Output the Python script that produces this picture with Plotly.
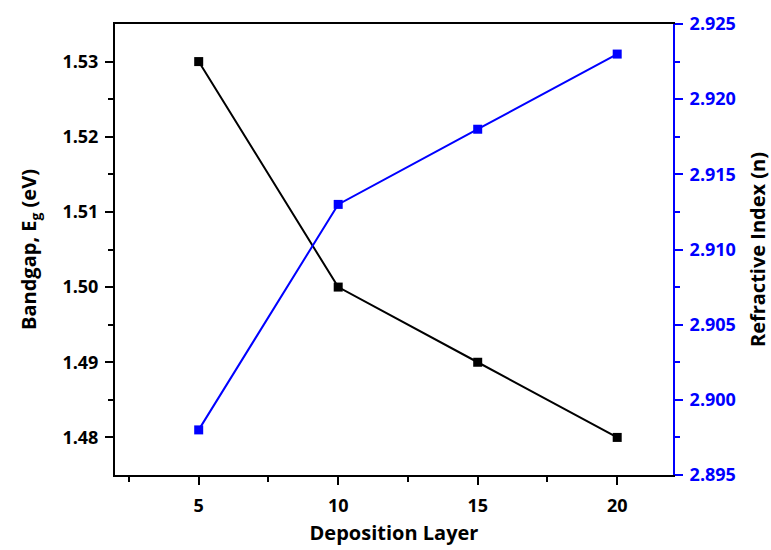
import plotly.graph_objects as go

layers = [5, 10, 15, 20]
bandgap = [1.53, 1.50, 1.49, 1.48]
refractive = [2.898, 2.913, 2.918, 2.923]

FONT = "Open Sans"
fig = go.Figure()
fig.add_trace(go.Scatter(x=layers, y=bandgap, mode="lines+markers",
                         line=dict(color="black", width=2),
                         marker=dict(symbol="square", size=9, color="black"),
                         name="Bandgap"))
fig.add_trace(go.Scatter(x=layers, y=refractive, mode="lines+markers",
                         line=dict(color="#0000ff", width=2),
                         marker=dict(symbol="square", size=9, color="#0000ff"),
                         name="Refractive", yaxis="y2"))

fig.update_layout(
    width=771, height=550,
    margin=dict(l=115, r=98, t=24, b=75, autoexpand=False),
    paper_bgcolor="white", plot_bgcolor="white",
    showlegend=False,
    font=dict(family=FONT, size=18, color="black"),
    xaxis=dict(range=[2, 22], tickvals=[5, 10, 15, 20], ticks="outside", automargin=False,
               ticklen=8, tickwidth=2, tickcolor="black", ticklabelstandoff=5,
               minor=dict(tickvals=[2.5, 7.5, 12.5, 17.5], ticks="outside", ticklen=5, tickwidth=2, tickcolor="black"),
               showline=True, linecolor="black", linewidth=2, mirror=True,
               showgrid=False, zeroline=False,
               tickfont=dict(family=FONT, size=18, color="black", weight="bold"),
               title=dict(text="Deposition Layer", font=dict(family=FONT, size=20, weight="bold"), standoff=10)),
    yaxis=dict(range=[1.475, 1.535], tickvals=[1.48, 1.49, 1.50, 1.51, 1.52, 1.53], automargin=False,
               ticktext=["1.48", "1.49", "1.50", "1.51", "1.52", "1.53"],
               ticks="outside", ticklen=8, tickwidth=2, tickcolor="black", ticklabelstandoff=3,
               minor=dict(tickvals=[1.485, 1.495, 1.505, 1.515, 1.525], ticks="outside", ticklen=5, tickwidth=2, tickcolor="black"),
               showline=True, linecolor="black", linewidth=2,
               showgrid=False, zeroline=False,
               tickfont=dict(family=FONT, size=18, color="black", weight="bold"),
               title=dict(text="Bandgap, E<sub>g</sub> (eV)", font=dict(family=FONT, size=20, weight="bold"), standoff=20)),
    yaxis2=dict(range=[2.895, 2.925], overlaying="y", side="right", automargin=False,
                tickvals=[2.895, 2.900, 2.905, 2.910, 2.915, 2.920, 2.925],
                ticktext=["2.895", "2.900", "2.905", "2.910", "2.915", "2.920", "2.925"],
                ticks="outside", ticklen=8, tickwidth=2, tickcolor="#0000ff", ticklabelstandoff=3,
                minor=dict(tickvals=[2.8975, 2.9025, 2.9075, 2.9125, 2.9175, 2.9225], ticks="outside", ticklen=5, tickwidth=2, tickcolor="#0000ff"),
                showline=True, linecolor="#0000ff", linewidth=2,
                showgrid=False, zeroline=False,
                tickfont=dict(family=FONT, size=18, color="#0000ff", weight="bold"),
                title=dict(text="Refractive Index (n)", font=dict(family=FONT, size=20, weight="bold", color="black"), standoff=18)),
)

fig.write_html("out.html")
